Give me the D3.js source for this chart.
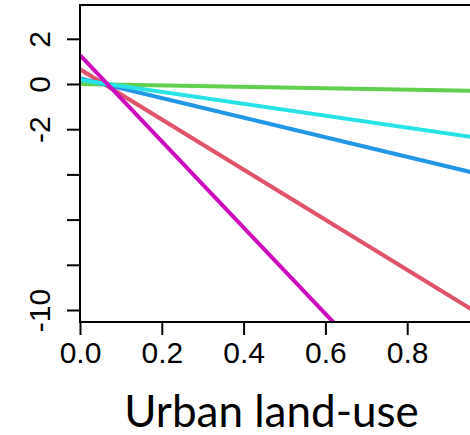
<!DOCTYPE html>
<html>
<head>
<meta charset="utf-8">
<script src="https://cdn.jsdelivr.net/npm/d3@7"></script>
<style>
  body { margin: 0; background: #fff; }
  svg { display: block; }
</style>
</head>
<body>
<svg id="chart" width="470" height="435"></svg>
<script>
// series: fitted value at x = 0 and at x = 1
var series = ["red", "green", "blue", "cyan", "magenta"];
var startVals = [0.65, 0.0, 0.25, 0.18, 1.28];
var endVals = [-10.44, -0.31, -4.09, -2.46, -17.8];
var colors = ["#DF536B", "#61D04F", "#2297E6", "#28E2E5", "#CD0BBC"];

// ticks
var xTicks = [0, 0.2, 0.4, 0.6, 0.8];
var yTicks = [2, 0, -2, -4, -6, -8, -10];
var yLabelled = [2, 0, -2, -10];

var svg = d3.select("#chart");

// scales
var x = d3.scaleLinear().domain([0, 1]).range([80, 489]);
var y = d3.scaleLinear().domain([-10, 2]).range([310, 38.8]);

var plotTop = 5, plotBottom = 322;

// clip for lines
svg.append("clipPath").attr("id", "plotclip")
  .append("rect")
  .attr("x", x(0)).attr("y", plotTop)
  .attr("width", x(1) - x(0)).attr("height", plotBottom - plotTop);

// lines
var lines = series.map(function(s, i) {
  return { name: s, pts: [[0, startVals[i]], [1, endVals[i]]], color: colors[i] };
});

var line = d3.line()
  .x(function(d) { return x(d[0]); })
  .y(function(d) { return y(d[1]); });

svg.append("g")
  .attr("clip-path", "url(#plotclip)")
  .selectAll("path")
  .data(lines)
  .enter().append("path")
  .attr("d", function(d) { return line(d.pts); })
  .attr("fill", "none")
  .attr("stroke", function(d) { return d.color; })
  .attr("stroke-width", 4);

// box (left, top, bottom)
svg.append("path")
  .attr("d", "M" + x(1) + "," + plotTop + "H" + x(0) + "V" + plotBottom + "H" + x(1))
  .attr("fill", "none")
  .attr("stroke", "#000")
  .attr("stroke-width", 2);

// x axis
var xAxis = d3.axisBottom(x)
  .tickValues(xTicks)
  .tickSize(13)
  .tickPadding(7)
  .tickFormat(d3.format(".1f"));

var gx = svg.append("g")
  .attr("transform", "translate(0," + plotBottom + ")")
  .call(xAxis);
gx.select(".domain").remove();
gx.selectAll(".tick line").attr("stroke-width", 2);
gx.selectAll(".tick text")
  .attr("font-family", "'Liberation Sans', Arial, sans-serif")
  .attr("font-size", 30)
  .attr("fill", "#000");

// y axis
var yAxis = d3.axisLeft(y)
  .tickValues(yTicks)
  .tickSize(13)
  .tickFormat(function(d) { return yLabelled.indexOf(d) >= 0 ? d : ""; });

var gy = svg.append("g")
  .attr("transform", "translate(" + x(0) + ",0)")
  .call(yAxis);
gy.select(".domain").remove();
gy.selectAll(".tick line").attr("stroke-width", 2);
gy.selectAll(".tick text")
  .attr("font-family", "'Liberation Sans', Arial, sans-serif")
  .attr("font-size", 30)
  .attr("fill", "#000")
  .attr("text-anchor", "middle")
  .attr("dy", null)
  .attr("x", null)
  .attr("transform", "translate(-30.5,0) rotate(-90)");

// x label
svg.append("text")
  .attr("x", 271.5)
  .attr("y", 427)
  .attr("text-anchor", "middle")
  .attr("font-family", "Lato, 'Open Sans', sans-serif")
  .attr("font-size", 44)
  .attr("fill", "#000")
  .text("Urban land-use");
</script>
</body>
</html>
